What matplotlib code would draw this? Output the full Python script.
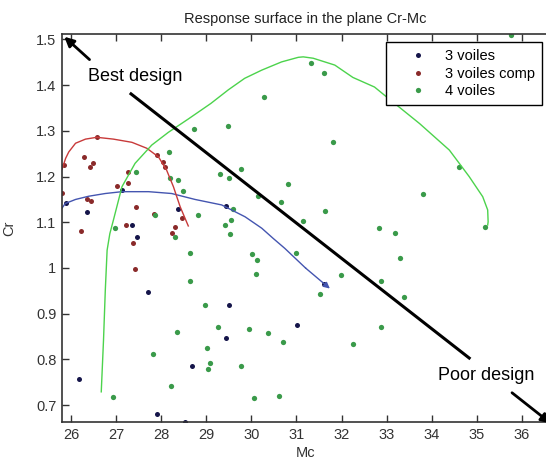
import matplotlib
matplotlib.use("Agg")
import matplotlib.pyplot as plt

plt.rcParams['font.family'] = ['Liberation Sans', 'DejaVu Sans']

# scatter data (Mc, Cr)
mc_3v = [25.88, 26.35, 26.17, 27.13, 27.35, 27.47, 27.70, 27.90, 28.37, 28.53,
         28.68, 29.43, 29.43, 29.50, 31.01, 31.61]
cr_3v = [1.142, 1.122, 0.758, 1.170, 1.094, 1.067, 0.947, 0.680, 1.129, 0.663,
         0.786, 0.846, 1.135, 0.918, 0.876, 0.965]

mc_3vc = [25.80, 25.84, 26.21, 26.28, 26.35, 26.43, 26.45, 26.49, 26.57, 27.02,
          27.22, 27.26, 27.27, 27.37, 27.42, 27.44, 27.83, 27.90, 28.05, 28.09,
          28.23, 28.31, 28.46]
cr_3vc = [1.165, 1.225, 1.080, 1.243, 1.151, 1.221, 1.146, 1.229, 1.286, 1.179,
          1.094, 1.186, 1.211, 1.054, 0.998, 1.133, 1.118, 1.248, 1.232, 1.221,
          1.077, 1.090, 1.109]

mc_4v = [26.93, 26.98, 27.44, 27.81, 27.87, 28.18, 28.19, 28.22, 28.30, 28.36,
         28.38, 28.48, 28.63, 28.63, 28.73, 28.82, 28.96, 29.01, 29.03, 29.08,
         29.25, 29.30, 29.41, 29.49, 29.50, 29.52, 29.55, 29.60, 29.76, 29.78,
         29.95, 30.02, 30.06, 30.10, 30.13, 30.15, 30.28, 30.36, 30.61, 30.65,
         30.70, 30.81, 31.00, 31.15, 31.33, 31.53, 31.61, 31.63, 31.81, 31.98,
         32.25, 32.84, 32.88, 32.88, 33.18, 33.29, 33.38, 33.80, 34.61, 35.17,
         35.76]
cr_4v = [0.717, 1.087, 1.211, 0.812, 1.116, 1.253, 1.198, 0.742, 1.068, 0.861,
         1.192, 1.169, 1.032, 0.972, 1.305, 1.116, 0.919, 0.826, 0.779, 0.793,
         0.870, 1.205, 1.094, 1.311, 1.198, 1.074, 1.106, 1.128, 0.786, 1.216,
         0.866, 1.030, 0.715, 0.986, 1.017, 1.157, 1.375, 0.858, 0.720, 1.145,
         0.839, 1.184, 1.032, 1.103, 1.449, 0.943, 1.427, 1.125, 1.275, 0.984,
         0.834, 1.087, 0.972, 0.871, 1.077, 1.021, 0.936, 1.162, 1.221, 1.089,
         1.510]

# response surface curves
curve_3v_mc = [25.80, 25.87, 26.10, 26.39, 26.76, 27.13, 27.72, 28.23, 28.75,
               29.34, 29.86, 30.23, 30.48, 30.74, 31.20, 31.74]
curve_3v_cr = [1.131, 1.141, 1.150, 1.157, 1.163, 1.167, 1.167, 1.163, 1.150,
               1.138, 1.112, 1.087, 1.065, 1.043, 1.000, 0.955]

curve_3vc_mc = [25.80, 25.88, 25.95, 26.10, 26.32, 26.57, 26.94, 27.35, 27.68,
                27.94, 28.12, 28.27, 28.42, 28.60]
curve_3vc_cr = [1.216, 1.240, 1.254, 1.273, 1.282, 1.286, 1.282, 1.275, 1.262,
                1.243, 1.214, 1.178, 1.134, 1.092]

curve_4v_mc = [26.67, 26.72, 26.76, 26.80, 26.86, 26.94, 27.13, 27.42, 27.79,
               28.16, 28.60, 29.10, 29.49, 29.85, 30.23, 30.67, 31.04, 31.15,
               31.37, 31.85, 32.25, 32.73, 32.99, 33.73, 34.39, 34.83, 35.13,
               35.24, 35.25, 35.24]
curve_4v_cr = [0.729, 0.842, 0.952, 1.039, 1.075, 1.105, 1.178, 1.229, 1.269,
               1.297, 1.326, 1.360, 1.390, 1.415, 1.433, 1.451, 1.461, 1.462,
               1.459, 1.444, 1.417, 1.396, 1.375, 1.316, 1.258, 1.200, 1.156,
               1.127, 1.101, 1.094]

# design direction annotation
best_tail, best_head = (26.41, 1.456), (25.85, 1.506)
poor_tail, poor_head = (35.78, 0.727), (36.64, 0.660)
trend_start, trend_end = (27.33, 1.381), (34.83, 0.803)

fig = plt.figure(figsize=(5.46, 4.59), dpi=100)
ax = fig.add_axes([0.1136, 0.0806, 0.8919, 0.8453])

ax.plot(mc_3v, cr_3v, 'o', color='#15154a', ms=3.6, mec='none', label='3 voiles')
ax.plot(mc_3vc, cr_3vc, 'o', color='#8a2a2a', ms=3.6, mec='none', label='3 voiles comp')
ax.plot(mc_4v, cr_4v, 'o', color='#3a9a4a', ms=3.8, mec='none', label='4 voiles')

ax.plot(curve_3v_mc[:-1], curve_3v_cr[:-1], color='#4455b0', lw=1)
ax.annotate('', xy=(curve_3v_mc[-1], curve_3v_cr[-1]),
            xytext=(curve_3v_mc[-2], curve_3v_cr[-2]),
            arrowprops=dict(arrowstyle='-|>', color='#4455b0', lw=1, mutation_scale=9,
                            shrinkA=0, shrinkB=0))
ax.plot(curve_3vc_mc, curve_3vc_cr, color='#c83a3a', lw=1)
ax.plot(curve_4v_mc, curve_4v_cr, color='#4cd34c', lw=1)

ax.plot([trend_start[0], trend_end[0]], [trend_start[1], trend_end[1]], color='black', lw=2.2)
ax.annotate('', xy=best_head, xytext=best_tail,
            arrowprops=dict(arrowstyle='-|>', color='black', lw=2, mutation_scale=14,
                            shrinkA=0, shrinkB=0))
ax.annotate('', xy=poor_head, xytext=poor_tail, annotation_clip=False,
            arrowprops=dict(arrowstyle='-|>', color='black', lw=2, mutation_scale=14,
                            shrinkA=0, shrinkB=0))
ax.text(26.37, 1.418, 'Best design', fontsize=13, ha='left', va='center')
ax.text(34.13, 0.764, 'Poor design', fontsize=13, ha='left', va='center')

ax.set_xlim(25.8, 36.6)
ax.set_ylim(0.663, 1.512)
ax.set_xticks(range(26, 37))
ax.set_yticks([0.7, 0.8, 0.9, 1.0, 1.1, 1.2, 1.3, 1.4, 1.5])
ax.set_yticklabels(['0.7', '0.8', '0.9', '1', '1.1', '1.2', '1.3', '1.4', '1.5'])
ax.tick_params(direction='in', top=True, right=False, length=5, width=1,
               labelsize=10.5, labelcolor='#333333', color='#333333', pad=4)
for side in ['left', 'bottom', 'top']:
    ax.spines[side].set_color('#333333')
    ax.spines[side].set_linewidth(1.2)
ax.spines['right'].set_visible(False)

ax.set_xlabel('Mc', fontsize=10.5, color='#333333', labelpad=3)
ax.set_ylabel('Cr', fontsize=10.5, color='#333333', labelpad=14)
ax.set_title('Response surface in the plane Cr-Mc', fontsize=10.5, color='#222222', pad=8)

leg = ax.legend(loc='upper left', bbox_to_anchor=(0.665, 0.979), fontsize=10.5,
                fancybox=False, edgecolor='black', framealpha=1, borderpad=0.5,
                handlelength=3.4, handletextpad=0.15, labelspacing=0.22,
                borderaxespad=0, numpoints=1)
leg.get_frame().set_linewidth(1.0)

fig.savefig('out.png', dpi=100)
